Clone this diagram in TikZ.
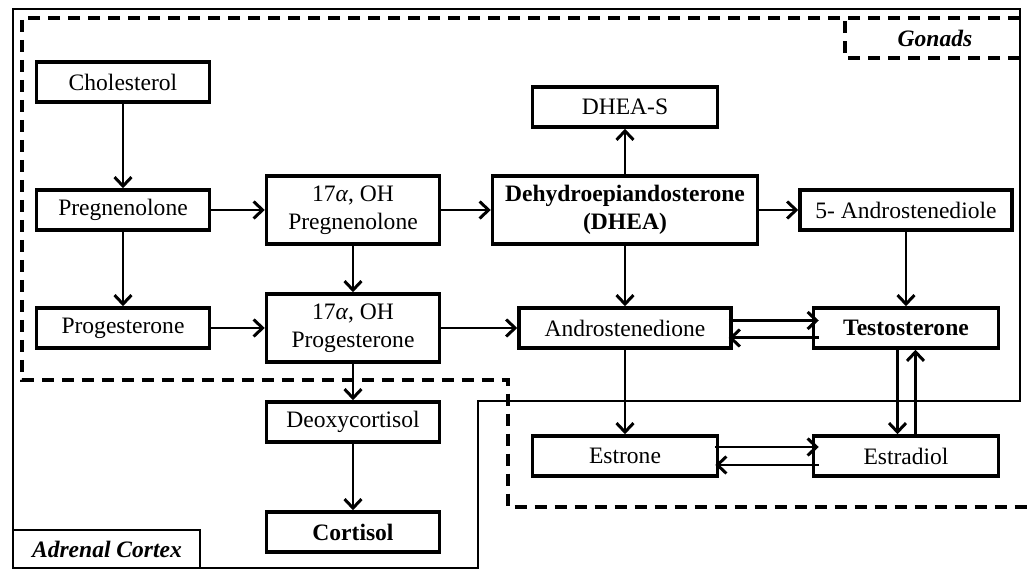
\documentclass[tikz,border=0pt]{standalone}
\usepackage{fontspec}
\setmainfont{Liberation Serif}
\usetikzlibrary{arrows.meta}
\begin{document}
\begin{tikzpicture}[x=0.02cm, y=-0.02cm, >={Straight Barb[length=0.18cm,width=0.34cm]},
  box/.style={draw, line width=2pt, minimum width=3.46cm, minimum height=0.8cm, inner sep=0pt,
    align=center, font=\fontsize{13.4}{16}\selectfont},
  tall/.style={box, minimum height=1.36cm},
  link/.style={->, line width=1.7pt},
  zone/.style={line width=1.6pt},
  gzone/.style={line width=1.8pt, dash pattern=on 0.24cm off 0.16cm},
  tag/.style={font=\fontsize{13.4}{16}\selectfont\bfseries\itshape}]
\useasboundingbox (0,0) rectangle (1029,570);
\draw[zone] (13,9) -- (1020,9) -- (1020,401) -- (478,401) -- (478,568) -- (13,568) -- cycle;
\draw[zone] (13,530) -- (200,530) -- (200,568);
\draw[gzone] (1020,18) -- (22,18) -- (22,380) -- (508,380) -- (508,507) -- (1029,507);
\draw[gzone] (1020,58) -- (845,58) -- (845,18);
\node[tag] (adrenal) at (107,549) {Adrenal Cortex};
\node[tag] (gonads) at (935,38) {Gonads};

\node[box] (chol) at (123,82) {Cholesterol};
\node[box] (preg) at (123,210) {Pregnenolone};
\node[box] (prog) at (123,328) {Progesterone};
\node[tall] (ohpreg) at (353,210) {17\textit{α}, OH\\Pregnenolone};
\node[tall] (ohprog) at (353,328) {17\textit{α}, OH\\Progesterone};
\node[box] (deoxy) at (353,422) {Deoxycortisol};
\node[box] (cort) at (353,532) {\textbf{Cortisol}};
\node[tall, minimum width=5.3cm] (dhea) at (625,210) {\textbf{Dehydroepiandosterone}\\\textbf{(DHEA)}};
\node[box, minimum width=3.7cm] (dheas) at (625,107) {DHEA-S};
\node[box, minimum width=4.24cm] (andiol) at (906,210) {5- Androstenediole};
\node[box, minimum width=4.24cm] (andione) at (625,328) {Androstenedione};
\node[box, minimum width=3.7cm] (testo) at (906,328) {\textbf{Testosterone}};
\node[box, minimum width=3.7cm] (estrone) at (625,456) {Estrone};
\node[box, minimum width=3.7cm] (estradiol) at (906,456) {Estradiol};

\draw[link] (chol) -- (preg);
\draw[link] (preg) -- (prog);
\draw[link] (preg) -- (ohpreg);
\draw[link] (prog) -- (ohprog);
\draw[link] (ohpreg) -- (ohprog);
\draw[link] (ohpreg) -- (dhea);
\draw[link] (ohprog) -- (deoxy);
\draw[link] (deoxy) -- (cort);
\draw[link] (ohprog) -- (andione);
\draw[link] (dhea) -- (dheas);
\draw[link] (dhea) -- (andiol);
\draw[link] (dhea) -- (andione);
\draw[link] (andiol) -- (testo);
\draw[link] (andione) -- (estrone);
\draw[link, shorten <=-0.08cm, shorten >=-0.14cm] ([yshift=0.15cm]andione.east) -- ([yshift=0.15cm]testo.west);
\draw[link, shorten <=-0.14cm, shorten >=-0.08cm] ([yshift=-0.2cm]testo.west) -- ([yshift=-0.2cm]andione.east);
\draw[link, shorten <=-0.08cm, shorten >=-0.14cm] ([yshift=0.18cm]estrone.east) -- ([yshift=0.18cm]estradiol.west);
\draw[link, shorten <=-0.14cm, shorten >=-0.08cm] ([yshift=-0.18cm]estradiol.west) -- ([yshift=-0.18cm]estrone.east);
\draw[link] ([xshift=-0.17cm]testo.south) -- ([xshift=-0.17cm]estradiol.north);
\draw[link] ([xshift=0.19cm]estradiol.north) -- ([xshift=0.19cm]testo.south);
\end{tikzpicture}
\end{document}
